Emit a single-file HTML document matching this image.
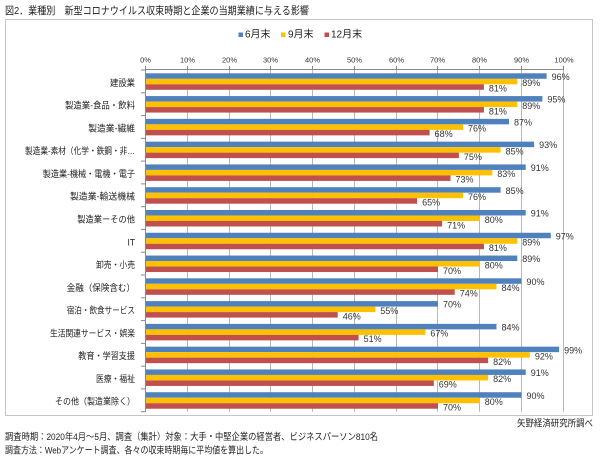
<!DOCTYPE html>
<html><head><meta charset="utf-8"><style>
html,body{margin:0;padding:0;background:#fff;}
svg{display:block;}
.t{font-family:"Liberation Sans","Noto Sans CJK JP",sans-serif;fill:#222;}
.c{font-family:"Liberation Sans","Noto Sans CJK JP",sans-serif;font-size:9px;fill:#222;text-anchor:end;}
.v{font-family:"Liberation Sans",sans-serif;font-size:9px;fill:#333;}
.k{font-family:"Liberation Sans",sans-serif;font-size:7.5px;fill:#333;text-anchor:middle;}
</style></head><body>
<svg width="600" height="469" viewBox="0 0 600 469" xmlns="http://www.w3.org/2000/svg">
<rect width="600" height="469" fill="#fff"/>
<text class="t" x="5" y="14" font-size="10.5" textLength="304" lengthAdjust="spacingAndGlyphs">図2．業種別　新型コロナウイルス収束時期と企業の当期業績に与える影響</text>
<rect x="5.5" y="19.5" width="587" height="396" fill="none" stroke="#c4c4c4" stroke-width="1"/>
<!-- legend -->
<rect x="238.5" y="32.5" width="4.5" height="4.5" fill="#4f81bd"/>
<text class="t" x="245" y="37.5" font-size="10">6月末</text>
<rect x="281" y="32.5" width="4.5" height="4.5" fill="#ffc000"/>
<text class="t" x="288" y="37.5" font-size="10">9月末</text>
<rect x="324.5" y="32.5" width="4.5" height="4.5" fill="#c0504d"/>
<text class="t" x="331" y="37.5" font-size="10">12月末</text>
<!-- tick labels -->
<g>
<text class="k" x="145.5" y="62.3">0%</text>
<text class="k" x="187.5" y="62.3">10%</text>
<text class="k" x="229.5" y="62.3">20%</text>
<text class="k" x="270.5" y="62.3">30%</text>
<text class="k" x="312.5" y="62.3">40%</text>
<text class="k" x="354.5" y="62.3">50%</text>
<text class="k" x="396.5" y="62.3">60%</text>
<text class="k" x="437.5" y="62.3">70%</text>
<text class="k" x="479.5" y="62.3">80%</text>
<text class="k" x="521.5" y="62.3">90%</text>
<text class="k" x="564" y="62.3">100%</text>
</g>
<!-- gridlines -->
<g stroke="#b8b8b8" stroke-width="1">
<line x1="187.5" y1="70" x2="187.5" y2="411.7"/>
<line x1="229.5" y1="70" x2="229.5" y2="411.7"/>
<line x1="270.5" y1="70" x2="270.5" y2="411.7"/>
<line x1="312.5" y1="70" x2="312.5" y2="411.7"/>
<line x1="354.5" y1="70" x2="354.5" y2="411.7"/>
<line x1="396.5" y1="70" x2="396.5" y2="411.7"/>
<line x1="437.5" y1="70" x2="437.5" y2="411.7"/>
<line x1="479.5" y1="70" x2="479.5" y2="411.7"/>
<line x1="521.5" y1="70" x2="521.5" y2="411.7"/>
<line x1="563.5" y1="70" x2="563.5" y2="411.7"/>
</g>
<!-- axes -->
<g stroke="#8a8a8a" stroke-width="1">
<line x1="145.5" y1="69.5" x2="563.5" y2="69.5"/>
<line x1="145.5" y1="69.5" x2="145.5" y2="411.7"/>
<line x1="145.5" y1="66" x2="145.5" y2="70"/>
<line x1="187.5" y1="66" x2="187.5" y2="70"/>
<line x1="229.5" y1="66" x2="229.5" y2="70"/>
<line x1="270.5" y1="66" x2="270.5" y2="70"/>
<line x1="312.5" y1="66" x2="312.5" y2="70"/>
<line x1="354.5" y1="66" x2="354.5" y2="70"/>
<line x1="396.5" y1="66" x2="396.5" y2="70"/>
<line x1="437.5" y1="66" x2="437.5" y2="70"/>
<line x1="479.5" y1="66" x2="479.5" y2="70"/>
<line x1="521.5" y1="66" x2="521.5" y2="70"/>
<line x1="563.5" y1="66" x2="563.5" y2="70"/>
<line x1="141" y1="70" x2="145.5" y2="70"/>
<line x1="141" y1="92.78" x2="145.5" y2="92.78"/>
<line x1="141" y1="115.56" x2="145.5" y2="115.56"/>
<line x1="141" y1="138.34" x2="145.5" y2="138.34"/>
<line x1="141" y1="161.12" x2="145.5" y2="161.12"/>
<line x1="141" y1="183.9" x2="145.5" y2="183.9"/>
<line x1="141" y1="206.68" x2="145.5" y2="206.68"/>
<line x1="141" y1="229.46" x2="145.5" y2="229.46"/>
<line x1="141" y1="252.24" x2="145.5" y2="252.24"/>
<line x1="141" y1="275.02" x2="145.5" y2="275.02"/>
<line x1="141" y1="297.8" x2="145.5" y2="297.8"/>
<line x1="141" y1="320.58" x2="145.5" y2="320.58"/>
<line x1="141" y1="343.36" x2="145.5" y2="343.36"/>
<line x1="141" y1="366.14" x2="145.5" y2="366.14"/>
<line x1="141" y1="388.92" x2="145.5" y2="388.92"/>
<line x1="141" y1="411.7" x2="145.5" y2="411.7"/>
</g>
<!-- category labels -->
<g>
<text class="c" x="135" y="85.8" textLength="25" lengthAdjust="spacingAndGlyphs">建設業</text>
<text class="c" x="135" y="108.58" textLength="70" lengthAdjust="spacingAndGlyphs">製造業-食品・飲料</text>
<text class="c" x="135" y="131.36" textLength="46.7" lengthAdjust="spacingAndGlyphs">製造業-繊維</text>
<text class="c" x="135" y="154.14" textLength="110" lengthAdjust="spacingAndGlyphs">製造業-素材（化学・鉄鋼・非…</text>
<text class="c" x="135" y="176.92" textLength="92.3" lengthAdjust="spacingAndGlyphs">製造業-機械・電機・電子</text>
<text class="c" x="135" y="199.7" textLength="65" lengthAdjust="spacingAndGlyphs">製造業-輸送機械</text>
<text class="c" x="135" y="222.48" textLength="57.7" lengthAdjust="spacingAndGlyphs">製造業ーその他</text>
<text class="c" x="135" y="245.26" textLength="7.5" lengthAdjust="spacingAndGlyphs">IT</text>
<text class="c" x="135" y="268.04" textLength="39" lengthAdjust="spacingAndGlyphs">卸売・小売</text>
<text class="c" x="135" y="290.82" textLength="68.3" lengthAdjust="spacingAndGlyphs">金融（保険含む）</text>
<text class="c" x="135" y="313.6" textLength="68.3" lengthAdjust="spacingAndGlyphs">宿泊・飲食サービス</text>
<text class="c" x="135" y="336.38" textLength="85" lengthAdjust="spacingAndGlyphs">生活関連サービス・娯楽</text>
<text class="c" x="135" y="359.16" textLength="56.7" lengthAdjust="spacingAndGlyphs">教育・学習支援</text>
<text class="c" x="135" y="381.94" textLength="39" lengthAdjust="spacingAndGlyphs">医療・福祉</text>
<text class="c" x="135" y="404.72" textLength="80" lengthAdjust="spacingAndGlyphs">その他（製造業除く）</text>
</g>
<!-- bars -->
<g fill="#4f81bd">
<rect x="146" y="73.3" width="400.6" height="5.5"/>
<rect x="146" y="96.08" width="396.4" height="5.5"/>
<rect x="146" y="118.86" width="363" height="5.5"/>
<rect x="146" y="141.64" width="388.1" height="5.5"/>
<rect x="146" y="164.42" width="379.7" height="5.5"/>
<rect x="146" y="187.2" width="354.6" height="5.5"/>
<rect x="146" y="209.98" width="379.7" height="5.5"/>
<rect x="146" y="232.76" width="404.8" height="5.5"/>
<rect x="146" y="255.54" width="371.3" height="5.5"/>
<rect x="146" y="278.32" width="375.5" height="5.5"/>
<rect x="146" y="301.1" width="292" height="5.5"/>
<rect x="146" y="323.88" width="350.5" height="5.5"/>
<rect x="146" y="346.66" width="413.1" height="5.5"/>
<rect x="146" y="369.44" width="379.7" height="5.5"/>
<rect x="146" y="392.22" width="375.5" height="5.5"/>
</g>
<g fill="#ffc000">
<rect x="146" y="78.8" width="371.3" height="5.5"/>
<rect x="146" y="101.58" width="371.3" height="5.5"/>
<rect x="146" y="124.36" width="317" height="5.5"/>
<rect x="146" y="147.14" width="354.6" height="5.5"/>
<rect x="146" y="169.92" width="346.3" height="5.5"/>
<rect x="146" y="192.7" width="317" height="5.5"/>
<rect x="146" y="215.48" width="333.7" height="5.5"/>
<rect x="146" y="238.26" width="371.3" height="5.5"/>
<rect x="146" y="261.04" width="333.7" height="5.5"/>
<rect x="146" y="283.82" width="350.5" height="5.5"/>
<rect x="146" y="306.6" width="229.3" height="5.5"/>
<rect x="146" y="329.38" width="279.4" height="5.5"/>
<rect x="146" y="352.16" width="383.9" height="5.5"/>
<rect x="146" y="374.94" width="342.1" height="5.5"/>
<rect x="146" y="397.72" width="333.7" height="5.5"/>
</g>
<g fill="#c0504d">
<rect x="146" y="84.3" width="337.9" height="5.5"/>
<rect x="146" y="107.08" width="337.9" height="5.5"/>
<rect x="146" y="129.86" width="283.6" height="5.5"/>
<rect x="146" y="152.64" width="312.9" height="5.5"/>
<rect x="146" y="175.42" width="304.5" height="5.5"/>
<rect x="146" y="198.2" width="271.1" height="5.5"/>
<rect x="146" y="220.98" width="296.1" height="5.5"/>
<rect x="146" y="243.76" width="337.9" height="5.5"/>
<rect x="146" y="266.54" width="292" height="5.5"/>
<rect x="146" y="289.32" width="308.7" height="5.5"/>
<rect x="146" y="312.1" width="191.7" height="5.5"/>
<rect x="146" y="334.88" width="212.6" height="5.5"/>
<rect x="146" y="357.66" width="342.1" height="5.5"/>
<rect x="146" y="380.44" width="287.8" height="5.5"/>
<rect x="146" y="403.22" width="292" height="5.5"/>
</g>
<!-- value labels -->
<g>
<text class="v" x="551.6" y="79.9">96%</text><text class="v" x="522.3" y="86.1">89%</text><text class="v" x="488.9" y="91.6">81%</text>
<text class="v" x="547.4" y="102.68">95%</text><text class="v" x="522.3" y="108.88">89%</text><text class="v" x="488.9" y="114.38">81%</text>
<text class="v" x="514" y="125.46">87%</text><text class="v" x="468" y="131.66">76%</text><text class="v" x="434.6" y="137.16">68%</text>
<text class="v" x="539.1" y="148.24">93%</text><text class="v" x="505.6" y="154.44">85%</text><text class="v" x="463.9" y="159.94">75%</text>
<text class="v" x="530.7" y="171.02">91%</text><text class="v" x="497.3" y="177.22">83%</text><text class="v" x="455.5" y="182.72">73%</text>
<text class="v" x="505.6" y="193.8">85%</text><text class="v" x="468" y="200">76%</text><text class="v" x="422.1" y="205.5">65%</text>
<text class="v" x="530.7" y="216.58">91%</text><text class="v" x="484.7" y="222.78">80%</text><text class="v" x="447.1" y="228.28">71%</text>
<text class="v" x="555.8" y="239.36">97%</text><text class="v" x="522.3" y="245.56">89%</text><text class="v" x="488.9" y="251.06">81%</text>
<text class="v" x="522.3" y="262.14">89%</text><text class="v" x="484.7" y="268.34">80%</text><text class="v" x="443" y="273.84">70%</text>
<text class="v" x="526.5" y="284.92">90%</text><text class="v" x="501.5" y="291.12">84%</text><text class="v" x="459.7" y="296.62">74%</text>
<text class="v" x="443" y="307.7">70%</text><text class="v" x="380.3" y="313.9">55%</text><text class="v" x="342.7" y="319.4">46%</text>
<text class="v" x="501.5" y="330.48">84%</text><text class="v" x="430.4" y="336.68">67%</text><text class="v" x="363.6" y="342.18">51%</text>
<text class="v" x="564.1" y="353.26">99%</text><text class="v" x="534.9" y="359.46">92%</text><text class="v" x="493.1" y="364.96">82%</text>
<text class="v" x="530.7" y="376.04">91%</text><text class="v" x="493.1" y="382.24">82%</text><text class="v" x="438.8" y="387.74">69%</text>
<text class="v" x="526.5" y="398.82">90%</text><text class="v" x="484.7" y="405.02">80%</text><text class="v" x="443" y="410.52">70%</text>
</g>
<!-- source & notes -->
<text class="t" x="517" y="426.3" font-size="9.5" textLength="76" lengthAdjust="spacingAndGlyphs">矢野経済研究所調べ</text>
<text class="t" x="5" y="440" font-size="9.5" textLength="373" lengthAdjust="spacingAndGlyphs">調査時期：2020年4月～5月、調査（集計）対象：大手・中堅企業の経営者、ビジネスパーソン810名</text>
<text class="t" x="5" y="453.3" font-size="9.5" textLength="263" lengthAdjust="spacingAndGlyphs">調査方法：Webアンケート調査、各々の収束時期毎に平均値を算出した。</text>
</svg>
</body></html>
